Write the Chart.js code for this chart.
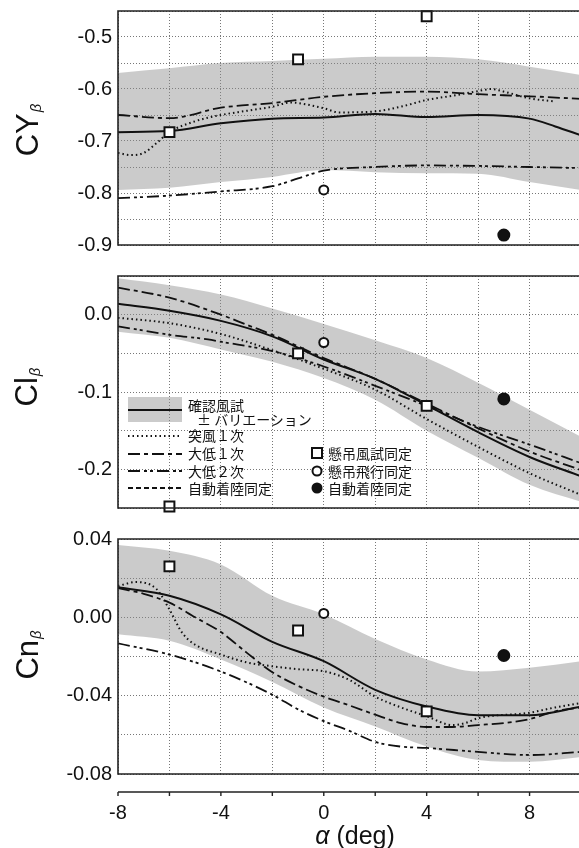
<!DOCTYPE html>
<html lang="ja">
<head>
    <meta charset="UTF-8">
    <title>横滑り安定微係数</title>
    <script src="https://cdn.jsdelivr.net/npm/chart.js@4.4.0/dist/chart.umd.min.js"></script>
    <style>
        body { margin: 0; width: 579px; height: 848px; overflow: hidden; background: #fff;
               font-family: 'Liberation Sans', Arial, sans-serif; color: #111; }
        canvas { position: absolute; left: 0; }
        .ytitle { position: absolute; transform: translate(-50%, -50%) rotate(-90deg);
                  font-size: 31px; white-space: nowrap; line-height: 1; }
        .ytitle sub { font-size: 15px; font-style: italic; vertical-align: -3px; margin-left: 1px; }
        .xtitle { position: absolute; transform: translate(-50%, -50%); font-size: 25px; white-space: nowrap; }
        .lg { position: absolute; font-family: 'Noto Sans CJK JP', sans-serif; font-size: 14px;
              line-height: 16px; white-space: nowrap; }
        #legend { position: absolute; left: 0; top: 260px; width: 579px; height: 260px; }
    </style>
</head>
<body>
    <canvas id="cy" width="590" height="260" style="top:0"></canvas>
    <canvas id="cl" width="590" height="260" style="top:260px"></canvas>
    <canvas id="cn" width="590" height="328" style="top:520px"></canvas>

    <div class="ytitle" style="left:27px; top:130px">CY<sub>β</sub></div>
    <div class="ytitle" style="left:26px; top:387px">Cl<sub>β</sub></div>
    <div class="ytitle" style="left:27px; top:655px">Cn<sub>β</sub></div>
    <div class="xtitle" style="left:355px; top:835px"><i>α</i> (deg)</div>

    <!-- legend (sits inside the Clβ panel) -->
    <div id="legend">
        <svg id="legend-svg" width="579" height="260" style="position:absolute; left:0; top:0"></svg>
        <div class="lg" style="left:188px; top:137px">確認風試</div>
        <div class="lg" style="left:197px; top:151px">±&nbsp;バリエーション</div>
        <div class="lg" style="left:188px; top:167px">突風１次</div>
        <div class="lg" style="left:188px; top:185px">大低１次</div>
        <div class="lg" style="left:188px; top:203px">大低２次</div>
        <div class="lg" style="left:188px; top:220px">自動着陸同定</div>
        <div class="lg" style="left:328px; top:185px">懸吊風試同定</div>
        <div class="lg" style="left:328px; top:203px">懸吊飛行同定</div>
        <div class="lg" style="left:328px; top:220px">自動着陸同定</div>
    </div>

    <script>
        // ---- data ----
        const ALPHA = [-8, -6, -4, -2, 0, 2, 4, 6, 8, 10];
        const X_TICKS = [-8, -4, 0, 4, 8];

        // CYβ
        const CY_TICKS = [-0.9, -0.8, -0.7, -0.6, -0.5];
        const cyBandHi = [-0.569, -0.560, -0.550, -0.546, -0.542, -0.538, -0.538, -0.543, -0.557, -0.573];
        const cyBandLo = [-0.794, -0.790, -0.779, -0.769, -0.756, -0.760, -0.762, -0.763, -0.779, -0.794];
        const cySolidX = [-8, -6, -4, -2, 0, 2, 4, 6, 8, 9, 10];
        const cySolid = [-0.683, -0.681, -0.666, -0.657, -0.655, -0.648, -0.654, -0.650, -0.657, -0.672, -0.689];
        const cyGustX = [-8, -7.5, -7, -6.5, -6, -5, -4, -3, -2, -1.3, -1, 0, 0.6, 2, 3, 4, 5, 6, 6.5, 7, 8, 9];
        const cyGust = [-0.723, -0.727, -0.723, -0.704, -0.683, -0.662, -0.650, -0.642, -0.634, -0.626, -0.627,
                        -0.637, -0.645, -0.643, -0.634, -0.621, -0.613, -0.604, -0.600, -0.605, -0.618, -0.624];
        const cyDai1 = [-0.650, -0.656, -0.636, -0.627, -0.615, -0.608, -0.605, -0.610, -0.614, -0.619];
        const cyDai2X = [-8, -6, -4, -2, -1, 0, 2, 4, 6, 8, 10];
        const cyDai2 = [-0.810, -0.805, -0.797, -0.787, -0.772, -0.757, -0.750, -0.747, -0.748, -0.750, -0.752];
        const cySqX = [-6, -1, 4], cySqY = [-0.683, -0.543, -0.460];
        const cyOpenX = [0], cyOpenY = [-0.794];
        const cyFullX = [7], cyFullY = [-0.881];

        // Clβ
        const CL_TICKS = [0.0, -0.1, -0.2];
        const clBandHi = [0.047, 0.038, 0.026, 0.008, -0.012, -0.033, -0.056, -0.088, -0.123, -0.158];
        const clBandLo = [-0.022, -0.030, -0.045, -0.061, -0.082, -0.110, -0.150, -0.185, -0.220, -0.242];
        const clSolid = [0.014, 0.005, -0.008, -0.028, -0.058, -0.083, -0.117, -0.152, -0.184, -0.209];
        const clGust = [-0.004, -0.011, -0.025, -0.046, -0.070, -0.097, -0.135, -0.171, -0.205, -0.233];
        const clDai1X = [-8, -6, -4, -3, -2, 0, 2, 4, 6, 8, 10];
        const clDai1 = [0.035, 0.022, 0.000, -0.013, -0.026, -0.056, -0.083, -0.115, -0.147, -0.177, -0.201];
        const clDai2X = [-8, -6, -4.5, -4, -2, 0, 2, 4, 6, 8, 10];
        const clDai2 = [-0.015, -0.026, -0.032, -0.035, -0.047, -0.067, -0.092, -0.118, -0.145, -0.168, -0.192];
        const clSqX = [-6, -1, 4], clSqY = [-0.248, -0.050, -0.118];
        const clOpenX = [0], clOpenY = [-0.036];
        const clFullX = [7], clFullY = [-0.109];

        // Cnβ
        const CN_TICKS = [0.04, 0.00, -0.04, -0.08];
        const cnBandHi = [0.037, 0.034, 0.027, 0.011, 0.0015, -0.011, -0.0215, -0.0277, -0.0257, -0.0224];
        const cnBandLo = [-0.0087, -0.012, -0.0215, -0.033, -0.046, -0.0557, -0.066, -0.0728, -0.0738, -0.0713];
        const cnSolid = [0.0154, 0.011, 0.0015, -0.0125, -0.0224, -0.037, -0.0455, -0.050, -0.050, -0.0457];
        const cnGustX = [-8, -7.3, -6.5, -6, -5.5, -5, -4, -3, -2, -1, 0, 1, 2, 3, 4, 5, 5.5, 6, 8, 9, 10];
        const cnGust = [0.016, 0.018, 0.0144, 0.004, -0.008, -0.014, -0.019, -0.023, -0.025, -0.0265, -0.0275,
                        -0.032, -0.0405, -0.046, -0.0505, -0.055, -0.054, -0.0515, -0.0487, -0.046, -0.0438];
        const cnDai1X = [-8, -7, -6, -5, -4, -3, -2, -1, 0, 1, 2, 3, 4, 5, 6, 7, 8, 9, 10];
        const cnDai1 = [0.015, 0.012, 0.0075, 0.0, -0.0075, -0.018, -0.028, -0.035, -0.0405, -0.045, -0.0497,
                        -0.054, -0.056, -0.056, -0.055, -0.054, -0.052, -0.048, -0.046];
        const cnDai2X = [-8, -6, -4, -2, -1, 0, 1, 2, 3, 4, 6, 8, 10];
        const cnDai2 = [-0.0133, -0.019, -0.0277, -0.0395, -0.047, -0.053, -0.058, -0.0636, -0.066, -0.0667,
                        -0.0687, -0.0703, -0.0687];
        const cnSqX = [-6, -1, 4], cnSqY = [0.026, -0.0067, -0.048];
        const cnOpenX = [0], cnOpenY = [0.002];
        const cnFullX = [7], cnFullY = [-0.0195];

        // ---- styles ----
        const INK = '#111';
        const BAND_FILL = 'rgba(140, 140, 140, 0.45)';
        const DASH = {
            solid: [],
            gust: [1.5, 3],
            dai1: [12, 4, 4, 4],
            dai2: [12, 4, 3, 3, 3, 4],
            auto: [5, 3]
        };

        Chart.defaults.font.family = "'Liberation Sans', Arial, sans-serif";
        Chart.defaults.color = INK;

        function pts(xs, ys) {
            return xs.map((x, i) => ({ x: x, y: ys[i] }));
        }

        function lineSet(xs, ys, dash, width) {
            return {
                data: pts(xs, ys), borderColor: INK, borderWidth: width, borderDash: dash,
                pointRadius: 0, fill: false, cubicInterpolationMode: 'monotone'
            };
        }

        function markerSet(xs, ys, style, radius, fillColor) {
            return {
                data: pts(xs, ys), showLine: false, pointStyle: style, pointRadius: radius,
                pointBackgroundColor: fillColor, pointBorderColor: INK, pointBorderWidth: 2, clip: false
            };
        }

        // no extra room for tick labels, the plot area is fixed by the padding below
        function noPad(s) {
            s.paddingLeft = s.paddingRight = s.paddingTop = s.paddingBottom = 0;
        }

        // top / left / bottom frame lines
        const framePlugin = {
            id: 'frame',
            afterDraw(chart) {
                const ctx = chart.ctx, a = chart.chartArea;
                ctx.save();
                ctx.strokeStyle = '#222';
                ctx.lineWidth = 1.6;
                ctx.beginPath();
                ctx.moveTo(a.right + 2, a.top);
                ctx.lineTo(a.left, a.top);
                ctx.lineTo(a.left, a.bottom);
                ctx.lineTo(a.right + 2, a.bottom);
                ctx.stroke();
                ctx.restore();
            }
        };

        // separate alpha axis line under the last panel
        const alphaAxisPlugin = {
            id: 'alphaAxis',
            afterDraw(chart) {
                const ctx = chart.ctx, a = chart.chartArea, xs = chart.scales.x;
                const y = a.bottom + 18;
                ctx.save();
                ctx.strokeStyle = '#222';
                ctx.lineWidth = 1.4;
                ctx.beginPath();
                ctx.moveTo(a.left, y);
                ctx.lineTo(a.right + 2, y);
                for (let v = -8; v <= 10; v += 2) {
                    const px = xs.getPixelForValue(v);
                    ctx.moveTo(px, y);
                    ctx.lineTo(px, y + 4);
                }
                ctx.stroke();
                ctx.restore();
            }
        };

        function makePanel(id, p) {
            const datasets = [
                markerSet(p.sqX, p.sqY, 'rect', 7, '#fff'),
                markerSet(p.openX, p.openY, 'circle', 4.5, '#fff'),
                markerSet(p.fullX, p.fullY, 'circle', 5.5, INK),
                lineSet(p.solidX, p.solid, DASH.solid, 2),
                lineSet(p.gustX, p.gust, DASH.gust, 2),
                lineSet(p.dai1X, p.dai1, DASH.dai1, 1.8),
                lineSet(p.dai2X, p.dai2, DASH.dai2, 1.8),
                { data: pts(ALPHA, p.bandHi), borderWidth: 0, pointRadius: 0, fill: '+1',
                  backgroundColor: BAND_FILL, cubicInterpolationMode: 'monotone' },
                { data: pts(ALPHA, p.bandLo), borderWidth: 0, pointRadius: 0, fill: false,
                  cubicInterpolationMode: 'monotone' }
            ];
            const plugins = [framePlugin];
            if (p.bottom) plugins.push(alphaAxisPlugin);

            return new Chart(document.getElementById(id), {
                type: 'line',
                data: { datasets: datasets },
                plugins: plugins,
                options: {
                    responsive: false,
                    animation: false,
                    events: [],
                    devicePixelRatio: 1,
                    layout: { padding: { left: 0, right: 1, top: p.padTop, bottom: p.padBottom } },
                    plugins: { legend: { display: false }, tooltip: { enabled: false } },
                    scales: {
                        x: {
                            type: 'linear', min: -8, max: 10,
                            grid: { color: '#777', lineWidth: 1, drawTicks: false },
                            border: { display: false, dash: [1, 2] },
                            ticks: {
                                display: !!p.bottom, stepSize: 2, autoSkip: false, padding: 27,
                                font: { size: 20 }, maxRotation: 0,
                                callback: v => X_TICKS.includes(v) ? String(v) : ''
                            },
                            afterFit: s => { s.height = p.bottom ? 74 : 0; noPad(s); }
                        },
                        y: {
                            min: p.yMin, max: p.yMax,
                            grid: { color: '#777', lineWidth: 1, drawTicks: false },
                            border: { display: false, dash: [1, 2] },
                            ticks: {
                                stepSize: p.yStep, autoSkip: false, padding: 6, font: { size: 20 },
                                callback: v => {
                                    const t = p.yTicks.find(t => Math.abs(t - v) < 1e-9);
                                    return t === undefined ? '' : t.toFixed(p.digits);
                                }
                            },
                            afterFit: s => { s.width = 118; noPad(s); }
                        }
                    }
                }
            });
        }

        makePanel('cy', {
            yMin: -0.9, yMax: -0.45, yStep: 0.05, yTicks: CY_TICKS, digits: 1, padTop: 11, padBottom: 15,
            bandHi: cyBandHi, bandLo: cyBandLo,
            solidX: cySolidX, solid: cySolid, gustX: cyGustX, gust: cyGust,
            dai1X: ALPHA, dai1: cyDai1, dai2X: cyDai2X, dai2: cyDai2,
            sqX: cySqX, sqY: cySqY, openX: cyOpenX, openY: cyOpenY, fullX: cyFullX, fullY: cyFullY
        });

        makePanel('cl', {
            yMin: -0.25, yMax: 0.05, yStep: 0.05, yTicks: CL_TICKS, digits: 1, padTop: 16, padBottom: 12,
            bandHi: clBandHi, bandLo: clBandLo,
            solidX: ALPHA, solid: clSolid, gustX: ALPHA, gust: clGust,
            dai1X: clDai1X, dai1: clDai1, dai2X: clDai2X, dai2: clDai2,
            sqX: clSqX, sqY: clSqY, openX: clOpenX, openY: clOpenY, fullX: clFullX, fullY: clFullY
        });

        makePanel('cn', {
            yMin: -0.08, yMax: 0.04, yStep: 0.02, yTicks: CN_TICKS, digits: 2, padTop: 19, padBottom: 0,
            bottom: true,
            bandHi: cnBandHi, bandLo: cnBandLo,
            solidX: ALPHA, solid: cnSolid, gustX: cnGustX, gust: cnGust,
            dai1X: cnDai1X, dai1: cnDai1, dai2X: cnDai2X, dai2: cnDai2,
            sqX: cnSqX, sqY: cnSqY, openX: cnOpenX, openY: cnOpenY, fullX: cnFullX, fullY: cnFullY
        });

        // legend samples
        (function drawLegend() {
            const svg = document.getElementById('legend-svg');
            const NS = 'http://www.w3.org/2000/svg';
            function add(tag, attrs) {
                const el = document.createElementNS(NS, tag);
                for (const k in attrs) el.setAttribute(k, attrs[k]);
                svg.appendChild(el);
            }
            function sample(y, dash, width) {
                add('line', { x1: 128, y1: y, x2: 182, y2: y, stroke: INK, 'stroke-width': width,
                              'stroke-dasharray': dash.length ? dash.join(' ') : 'none' });
            }
            add('rect', { x: 128, y: 137, width: 54, height: 25, fill: BAND_FILL });
            sample(150, DASH.solid, 2);
            sample(176, DASH.gust, 2);
            sample(194, DASH.dai1, 1.8);
            sample(211, DASH.dai2, 1.8);
            sample(228, DASH.auto, 1.8);
            add('rect', { x: 312, y: 188, width: 10, height: 10, fill: '#fff', stroke: INK, 'stroke-width': 2 });
            add('circle', { cx: 317, cy: 211, r: 4.5, fill: '#fff', stroke: INK, 'stroke-width': 2 });
            add('circle', { cx: 317, cy: 228, r: 5.5, fill: INK });
        })();
    </script>
</body>
</html>
